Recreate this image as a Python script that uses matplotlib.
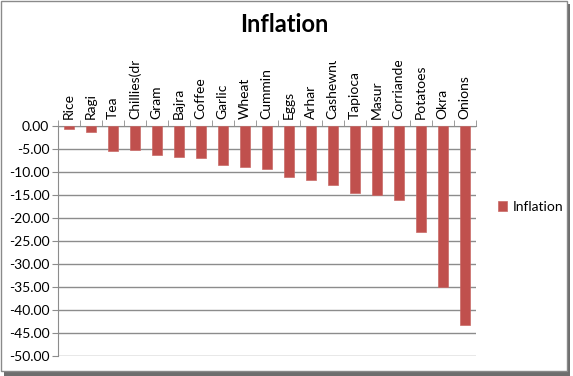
import numpy as np
import matplotlib
matplotlib.use('Agg')
import matplotlib.pyplot as plt
from matplotlib.patches import Rectangle
from matplotlib.ticker import FuncFormatter
from matplotlib.transforms import Bbox, TransformedBbox

# data
items = ['Rice', 'Ragi', 'Tea', 'Chillies(dry)', 'Gram', 'Bajra', 'Coffee', 'Garlic',
         'Wheat', 'Cummin', 'Eggs', 'Arhar', 'Cashewnuts', 'Tapioca', 'Masur',
         'Corriander', 'Potatoes', 'Okra', 'Onions']
inflation = [-0.7, -1.2, -5.4, -5.3, -6.2, -6.7, -7.0, -8.4, -8.9, -9.4,
             -11.1, -11.7, -12.9, -14.5, -15.1, -16.1, -23.0, -34.9, -43.3]
yticks = np.arange(-50, 0.1, 5)

plt.rcParams['font.family'] = ['Lato', 'DejaVu Sans']

fig = plt.figure(figsize=(5.73, 3.76), dpi=100)

# chart frame with shadow
fig.patches.append(Rectangle((4 / 573, 0), 566 / 573, 372 / 376, transform=fig.transFigure,
                             facecolor='#6e6e6e', edgecolor='none', zorder=0))
fig.patches.append(Rectangle((1 / 573, 5 / 376), 566 / 573, 370 / 376, transform=fig.transFigure,
                             facecolor='white', edgecolor='#8a8a8a', linewidth=1, zorder=1))

ax = fig.add_axes([57.7 / 573, 1 - 356 / 376, 418 / 573, 230 / 376])
ax.set_zorder(2)
ax.patch.set_alpha(0)

x = np.arange(len(items))
ax.bar(x, inflation, width=0.45, color='#C0504D', edgecolor='#c96a67', linewidth=0.5, zorder=3,
       label='Inflation')

ax.set_xlim(-0.5, len(items) - 0.5)
ax.set_ylim(-50, 0)
ax.set_yticks(yticks)
ax.yaxis.set_major_formatter(FuncFormatter(lambda v, p: '%.2f' % v if v != 0 else '0.00'))
ax.yaxis.grid(True, color='#8c8c8c', linewidth=1, zorder=0)
ax.set_axisbelow(True)

ax.xaxis.tick_top()
ax.set_xticks(x)
ax.set_xticklabels(items, rotation=90, fontsize=10)
ax.set_xticks(np.arange(-0.5, len(items), 1), minor=True)
ax.tick_params(axis='x', which='major', length=0, pad=5)
ax.tick_params(axis='x', which='minor', top=True, bottom=False, length=4, color='#8c8c8c', direction='out')
ax.tick_params(axis='y', length=4, color='#8c8c8c', labelsize=10, pad=2)

# labels get cut at the top of the plot area like in excel
clip = TransformedBbox(Bbox([[0, 0], [1, 1 - 61 / 376]]), fig.transFigure)
for lab in ax.get_xticklabels():
    lab.set_clip_on(True)
    lab.set_clip_box(clip)

for s in ['right', 'bottom']:
    ax.spines[s].set_visible(False)
ax.spines['top'].set_color('#8c8c8c')
ax.spines['left'].set_color('#8c8c8c')

fig.text(284 / 573, 1 - 25 / 376, 'Inflation', ha='center', va='center', fontsize=17,
         fontweight='bold')

ax.legend(loc='center left', bbox_to_anchor=(485 / 573, 1 - 207 / 376), bbox_transform=fig.transFigure,
          frameon=False, fontsize=10, handlelength=0.7, handleheight=0.7, handletextpad=0.4)

fig.savefig('out.png', dpi=100)
